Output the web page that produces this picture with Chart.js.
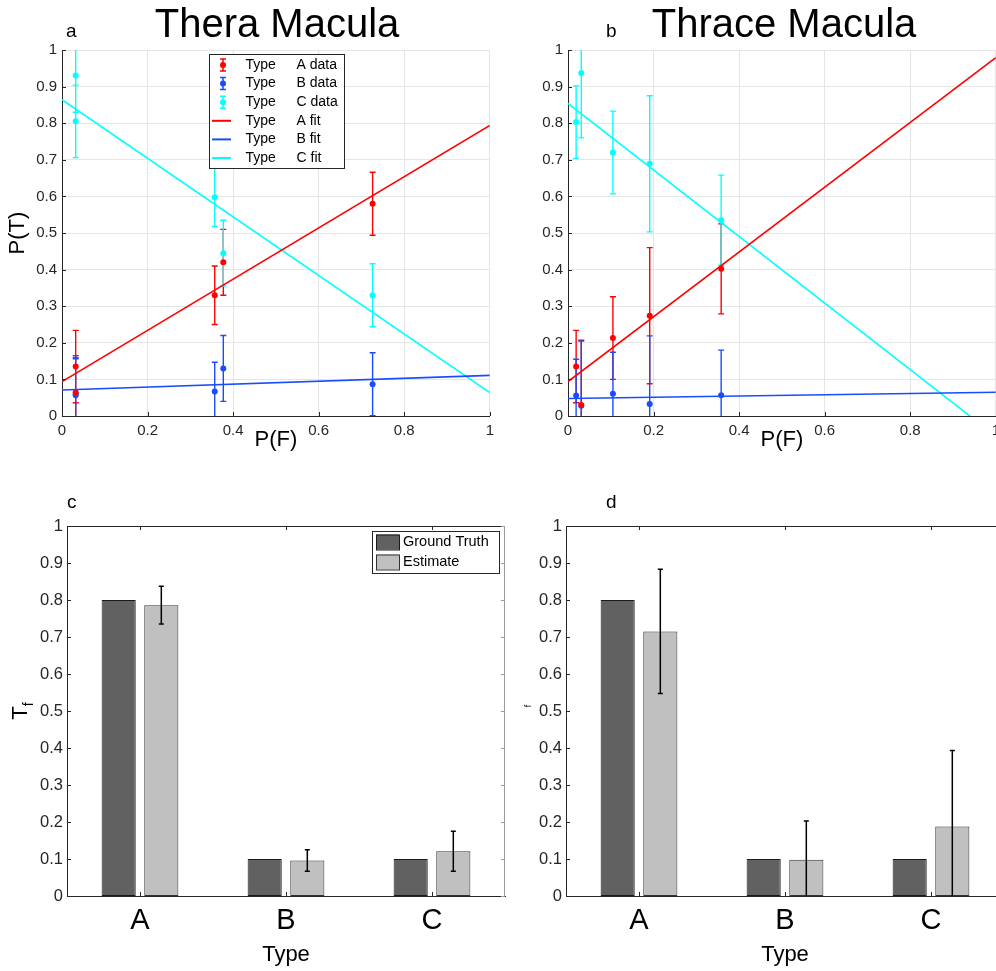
<!DOCTYPE html>
<html>
<head>
<meta charset="utf-8">
<script src="https://cdn.jsdelivr.net/npm/chart.js@4.4.1/dist/chart.umd.min.js"></script>
<style>
  html, body { margin: 0; padding: 0; background: #fff; }
  body { width: 996px; height: 971px; overflow: hidden; position: relative; font-family: "Liberation Sans", Arial, sans-serif; }
  .panel { position: absolute; }
  .txt { position: absolute; color: #000; white-space: nowrap; line-height: 1; }
  .title { font-size: 40px; transform: translateX(-50%); }
  .letter { font-size: 19px; }
  .ylab { transform: translate(-50%, -50%) rotate(-90deg); }
</style>
</head>
<body>

<div class="panel" style="left:0;top:0;width:500px;height:465px"><canvas id="theraChart"></canvas></div>
<div class="panel" style="left:506px;top:0;width:500px;height:465px"><canvas id="thraceChart"></canvas></div>
<div class="panel" style="left:0;top:480px;width:510px;height:491px"><canvas id="theraBars"></canvas></div>
<div class="panel" style="left:500px;top:480px;width:510px;height:491px"><canvas id="thraceBars"></canvas></div>

<div class="txt title" style="left:277px;top:3px">Thera Macula</div>
<div class="txt title" style="left:784px;top:3px">Thrace Macula</div>
<div class="txt letter" style="left:66px;top:21px">a</div>
<div class="txt letter" style="left:606px;top:21px">b</div>
<div class="txt letter" style="left:67px;top:492px">c</div>
<div class="txt letter" style="left:606px;top:492px">d</div>
<div class="txt ylab" style="left:22px;top:711px;font-size:22px">T<sub style="font-size:14px">f</sub></div>
<div class="txt ylab" style="left:528px;top:706px;font-size:9px">f</div>

<script>
const fontFamily = '"Liberation Sans", Arial, Helvetica, sans-serif';
const axisColor = '#262626';
const gridColor = '#e5e5e5';

const typeNames = ['A', 'B', 'C'];
const typeColors = ['#ff0000', '#1a4cff', '#00ffff'];

// Thera Macula: fraction of each terrain type per site vs P(F)
const theraSiteF = [0.032, 0.032, 0.357, 0.377, 0.726];
const theraTypeA = [0.135, 0.065, 0.33, 0.42, 0.58];
const theraTypeB = [0.057, 0.06, 0.067, 0.13, 0.087];
const theraTypeC = [0.805, 0.93, 0.598, 0.445, 0.33];
const theraErr = [0.099, 0.1, 0.08, 0.09, 0.086];

// Thrace Macula
const thraceSiteF = [0.019, 0.031, 0.105, 0.191, 0.358];
const thraceTypeA = [0.135, 0.03, 0.213, 0.274, 0.402];
const thraceTypeB = [0.056, 0.028, 0.061, 0.033, 0.057];
const thraceTypeC = [0.803, 0.937, 0.72, 0.689, 0.535];
const thraceErr = [0.099, 0.177, 0.113, 0.186, 0.123];

// linear fits, values at P(F) = 0 and 1
const fitF = [0, 1];
const theraFitA = [0.094, 0.794];
const theraFitB = [0.071, 0.111];
const theraFitC = [0.864, 0.064];
const thraceFitA = [0.094, 0.979];
const thraceFitB = [0.048, 0.065];
const thraceFitC = [0.854, -0.055];

// T_f per type
const groundTruth = [0.8, 0.1, 0.1];
const theraEstimate = [0.786, 0.096, 0.121];
const theraEstimateErr = [0.051, 0.029, 0.054];
const thraceEstimate = [0.715, 0.098, 0.188];
const thraceEstimateErr = [0.168, 0.105, 0.205];

Chart.defaults.font.family = fontFamily;
Chart.defaults.color = axisColor;
Chart.defaults.animation = false;

const tickLabel = v => String(Math.round(v * 10) / 10);

function drawErrorBars(chart, opts) {
  const { ctx, chartArea: a, scales: { y } } = chart;
  ctx.save();
  ctx.beginPath();
  ctx.rect(a.left, a.top, a.right - a.left, a.bottom - a.top);
  ctx.clip();
  chart.data.datasets.forEach((ds, di) => {
    if (!ds.errors) return;
    const meta = chart.getDatasetMeta(di);
    const cap = opts.cap ?? 3;
    ctx.strokeStyle = opts.stroke || ds.borderColor;
    ctx.lineWidth = opts.lineWidth || 1;
    ctx.beginPath();
    meta.data.forEach((el, i) => {
      const d = ds.data[i];
      const v = typeof d === 'object' ? d.y : d;
      const top = y.getPixelForValue(v + ds.errors[i]);
      const bot = y.getPixelForValue(v - ds.errors[i]);
      const x = el.x;
      ctx.moveTo(x, top); ctx.lineTo(x, bot);
      ctx.moveTo(x - cap, top); ctx.lineTo(x + cap, top);
      ctx.moveTo(x - cap, bot); ctx.lineTo(x + cap, bot);
    });
    ctx.stroke();
  });
  ctx.restore();
}

const errorBars = {
  id: 'errorBars',
  beforeDatasetsDraw(chart, args, opts) { if (!opts.front) drawErrorBars(chart, opts); },
  afterDatasetsDraw(chart, args, opts) { if (opts.front) drawErrorBars(chart, opts); }
};

// inward tick marks, plus the top/right frame on the bar panels
const frameTicks = {
  id: 'frameTicks',
  afterDraw(chart, args, opts) {
    const { ctx, chartArea: a, scales: { x, y } } = chart;
    const len = opts.length ?? 4;
    ctx.save();
    ctx.strokeStyle = axisColor;
    ctx.lineWidth = 1;
    ctx.beginPath();
    y.ticks.forEach((t, i) => {
      const py = Math.round(y.getPixelForTick(i)) + 0.5;
      ctx.moveTo(a.left, py); ctx.lineTo(a.left + len, py);
    });
    x.ticks.forEach((t, i) => {
      const px = Math.round(x.getPixelForTick(i)) + 0.5;
      ctx.moveTo(px, a.bottom); ctx.lineTo(px, a.bottom - len);
      if (opts.box) { ctx.moveTo(px, a.top); ctx.lineTo(px, a.top + len); }
    });
    if (opts.box) {
      ctx.moveTo(a.left, a.top + 0.5); ctx.lineTo(a.right, a.top + 0.5);
    }
    ctx.stroke();
    if (opts.rightStroke) {
      ctx.strokeStyle = opts.rightStroke;
      ctx.beginPath();
      ctx.moveTo(a.right - 0.5, a.top); ctx.lineTo(a.right - 0.5, a.bottom);
      y.ticks.forEach((t, i) => {
        const py = Math.round(y.getPixelForTick(i)) + 0.5;
        ctx.moveTo(a.right, py); ctx.lineTo(a.right - len, py);
      });
      ctx.stroke();
    }
    ctx.restore();
  }
};

const insetLegend = {
  id: 'insetLegend',
  afterDraw(chart, args, o) {
    if (!o.box) return;
    const { ctx } = chart;
    const [bx, by, bw, bh] = o.box;
    ctx.save();
    ctx.fillStyle = '#fff';
    ctx.fillRect(bx, by, bw, bh);
    ctx.strokeStyle = axisColor;
    ctx.lineWidth = 1;
    ctx.strokeRect(bx + 0.5, by + 0.5, bw, bh);
    ctx.font = `${o.fontSize}px ${fontFamily}`;
    ctx.textBaseline = 'middle';
    chart.data.datasets.forEach((ds, i) => {
      const cy = o.firstRow + i * o.rowStep;
      if (chart.config.type === 'bar') {
        const [sx, sw, sh] = o.swatch;
        ctx.fillStyle = ds.backgroundColor;
        ctx.fillRect(sx, cy - sh / 2, sw, sh);
        ctx.strokeStyle = ds.borderColor;
        ctx.strokeRect(sx + 0.5, cy - sh / 2 + 0.5, sw, sh);
      } else if (ds.errors) {
        ctx.strokeStyle = ds.borderColor;
        ctx.lineWidth = 1.5;
        ctx.beginPath();
        ctx.moveTo(o.icon, cy - 6); ctx.lineTo(o.icon, cy + 6);
        ctx.moveTo(o.icon - 3, cy - 6); ctx.lineTo(o.icon + 3, cy - 6);
        ctx.moveTo(o.icon - 3, cy + 6); ctx.lineTo(o.icon + 3, cy + 6);
        ctx.stroke();
        ctx.lineWidth = 1;
        ctx.fillStyle = ds.backgroundColor;
        ctx.beginPath();
        ctx.arc(o.icon, cy, 3, 0, Math.PI * 2);
        ctx.fill();
      } else {
        ctx.strokeStyle = ds.borderColor;
        ctx.lineWidth = 2;
        ctx.beginPath();
        ctx.moveTo(o.line[0], cy); ctx.lineTo(o.line[1], cy);
        ctx.stroke();
        ctx.lineWidth = 1;
      }
      ctx.fillStyle = '#000';
      if (o.cols.length > 1) {
        const cut = ds.label.indexOf(' ');
        ctx.fillText(ds.label.slice(0, cut), o.cols[0], cy);
        ctx.fillText(ds.label.slice(cut + 1), o.cols[1], cy);
      } else {
        ctx.fillText(ds.label, o.cols[0], cy);
      }
    });
    ctx.restore();
  }
};

function pointsOf(xs, ys) {
  return xs.map((x, i) => ({ x, y: ys[i] }));
}

function fractionChart(id, siteF, types, err, fits, { yTitle, legend, padRight }) {
  const datasets = [];
  types.forEach((ys, i) => datasets.push({
    label: `Type ${typeNames[i]} data`,
    data: pointsOf(siteF, ys),
    errors: err,
    backgroundColor: typeColors[i],
    borderColor: typeColors[i],
    pointRadius: 3,
    pointBorderWidth: 0,
    showLine: false,
    order: 1
  }));
  fits.forEach((ys, i) => datasets.push({
    label: `Type ${typeNames[i]} fit`,
    data: pointsOf(fitF, ys),
    borderColor: typeColors[i],
    borderWidth: 1.6,
    pointRadius: 0,
    showLine: true,
    order: 0
  }));

  new Chart(document.getElementById(id), {
    type: 'scatter',
    data: { datasets },
    plugins: [errorBars, frameTicks, insetLegend],
    options: {
      responsive: true,
      maintainAspectRatio: false,
      layout: { padding: { top: 50, right: padRight, left: 0, bottom: 0 } },
      plugins: {
        legend: { display: false },
        tooltip: { enabled: false },
        errorBars: { front: false, lineWidth: 1.4, cap: 3 },
        frameTicks: { length: 4 },
        insetLegend: legend || {}
      },
      scales: {
        x: {
          type: 'linear', min: 0, max: 1,
          ticks: { stepSize: 0.2, padding: 6, maxRotation: 0, color: axisColor, font: { size: 15 }, callback: tickLabel },
          grid: { color: gridColor, drawTicks: false },
          border: { color: axisColor },
          title: { display: true, text: 'P(F)', color: '#000', font: { size: 22 }, padding: { top: 0, bottom: 12 } },
          afterFit: s => { s.height = 49; }
        },
        y: {
          type: 'linear', min: 0, max: 1,
          ticks: { stepSize: 0.1, padding: 5, color: axisColor, font: { size: 15 }, callback: tickLabel },
          grid: { color: gridColor, drawTicks: false },
          border: { color: axisColor },
          title: { display: !!yTitle, text: yTitle || '', color: '#000', font: { size: 22 }, padding: { top: 5, bottom: 0 } },
          afterFit: s => { s.width = 62; }
        }
      }
    }
  });
}

function estimateChart(id, estimate, estimateErr, { axisWidth, padRight, legend, rightStroke }) {
  new Chart(document.getElementById(id), {
    type: 'bar',
    data: {
      labels: typeNames,
      datasets: [
        {
          label: 'Ground Truth',
          data: groundTruth,
          backgroundColor: '#616161',
          borderColor: '#1a1a1a',
          borderWidth: 1,
          borderSkipped: false,
          categoryPercentage: 0.584,
          barPercentage: 0.8
        },
        {
          label: 'Estimate',
          data: estimate,
          errors: estimateErr,
          backgroundColor: '#c0c0c0',
          borderColor: '#333333',
          borderWidth: 1,
          borderSkipped: false,
          categoryPercentage: 0.584,
          barPercentage: 0.8
        }
      ]
    },
    plugins: [errorBars, frameTicks, insetLegend],
    options: {
      responsive: true,
      maintainAspectRatio: false,
      layout: { padding: { top: 46, right: padRight, left: 0, bottom: 0 } },
      plugins: {
        legend: { display: false },
        tooltip: { enabled: false },
        errorBars: { front: true, stroke: '#000', lineWidth: 1.5, cap: 2.5 },
        frameTicks: { length: 4, box: true, rightStroke },
        insetLegend: legend || {}
      },
      scales: {
        x: {
          type: 'category', offset: true,
          ticks: { padding: 8, color: '#000', font: { size: 29 } },
          grid: { display: false, drawTicks: false },
          border: { color: axisColor },
          title: { display: true, text: 'Type', color: '#000', font: { size: 22 }, padding: { top: 0, bottom: 3 } },
          afterFit: s => { s.height = 75; }
        },
        y: {
          type: 'linear', min: 0, max: 1,
          ticks: { stepSize: 0.1, padding: 4, color: axisColor, font: { size: 16.5 }, callback: tickLabel },
          grid: { display: false, drawTicks: false },
          border: { color: axisColor },
          afterFit: s => { s.width = axisWidth; }
        }
      }
    }
  });
}

fractionChart('theraChart', theraSiteF, [theraTypeA, theraTypeB, theraTypeC], theraErr,
  [theraFitA, theraFitB, theraFitC], {
    yTitle: 'P(T)',
    padRight: 8,
    legend: { box: [209, 54, 135, 114], firstRow: 65, rowStep: 18.6, icon: 223, line: [212, 231], cols: [245.5, 296.5], fontSize: 14 }
  });

fractionChart('thraceChart', thraceSiteF, [thraceTypeA, thraceTypeB, thraceTypeC], thraceErr,
  [thraceFitA, thraceFitB, thraceFitC], { padRight: 6.5 });

estimateChart('theraBars', theraEstimate, theraEstimateErr, {
  axisWidth: 67,
  padRight: 5,
  rightStroke: '#9a9a9a',
  legend: { box: [372, 51, 127, 42], firstRow: 62, rowStep: 20, swatch: [376, 23, 15], cols: [403], fontSize: 14.5 }
});

estimateChart('thraceBars', thraceEstimate, thraceEstimateErr, { axisWidth: 66, padRight: 6 });
</script>
</body>
</html>
